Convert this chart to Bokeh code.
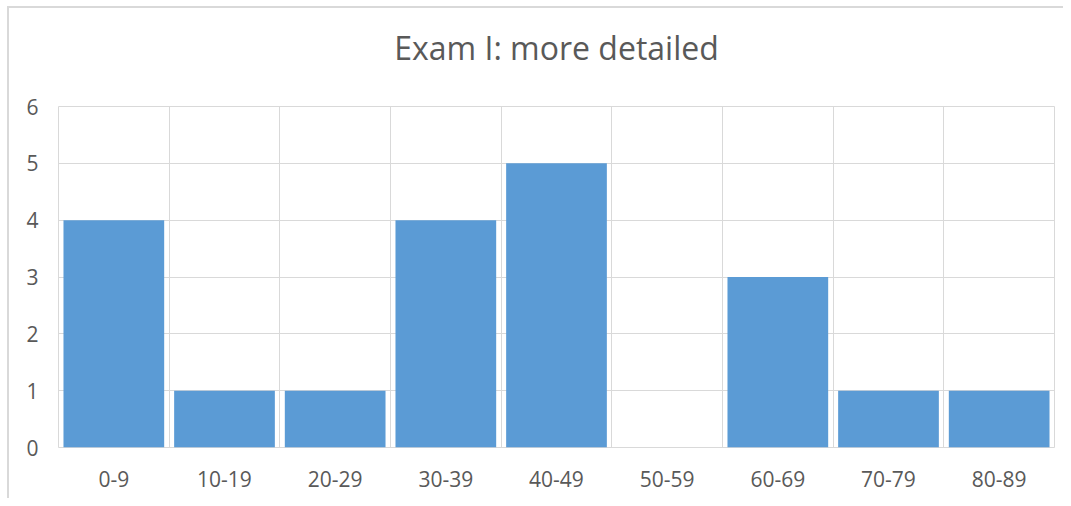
from bokeh.plotting import figure
from bokeh.models import FixedTicker, Range1d, LinearAxis
from bokeh.embed import file_html
from bokeh.resources import INLINE

categories = ["0-9", "10-19", "20-29", "30-39", "40-49", "50-59", "60-69", "70-79", "80-89"]
counts = [4, 1, 1, 4, 5, 0, 3, 1, 1]
y_ticks = [0, 1, 2, 3, 4, 5, 6]
title_text = "Exam I: more detailed"

TEXT = "#595959"
GRID = "#d9d9d9"
FONT = "Open Sans"

n = len(categories)
centers = [i + 0.5 for i in range(n)]
W, H = 1063, 498
BL, BR, BT, BB = 58, 9, 106, 51

p = figure(width=W, height=H, output_backend="svg", toolbar_location=None,
           x_range=Range1d(0, n), y_range=Range1d(0, 6),
           min_border_left=BL, min_border_right=BR, min_border_bottom=BB, min_border_top=BT)

p.vbar(x=centers, top=counts, width=0.91, color="#5B9BD5", line_color=None)

bottom_axis = p.below[0]
left_axis = p.left[0]

# title drawn as the label of an empty axis above the frame
top_axis = LinearAxis(ticker=FixedTicker(ticks=[]), axis_label=title_text,
                      axis_line_color=None, major_tick_line_color=None,
                      minor_tick_line_color=None, major_tick_out=0, minor_tick_out=0,
                      major_label_standoff=0,
                      axis_label_standoff=38, axis_label_text_font=FONT,
                      axis_label_text_font_size="32px", axis_label_text_font_style="normal",
                      axis_label_text_color=TEXT)
p.add_layout(top_axis, "above")

p.outline_line_color = GRID
p.outline_line_width = 1
p.background_fill_color = "white"
p.border_fill_color = None
p.styles = {
    "background": ("linear-gradient(#d9d9d9,#d9d9d9) 7px 6px / 2px 100% no-repeat, "
                   "linear-gradient(#d9d9d9,#d9d9d9) 7px 6px / 100% 2px no-repeat, white"),
}

bottom_axis.ticker = FixedTicker(ticks=centers)
bottom_axis.major_label_overrides = {c: lab for c, lab in zip(centers, categories)}
left_axis.ticker = FixedTicker(ticks=y_ticks)
p.xgrid.ticker = FixedTicker(ticks=list(range(n + 1)))
p.ygrid.ticker = FixedTicker(ticks=y_ticks)

for ax in (bottom_axis, left_axis):
    ax.axis_line_color = None
    ax.major_tick_line_color = None
    ax.minor_tick_line_color = None
    ax.major_label_text_font = FONT
    ax.major_label_text_font_size = "21px"
    ax.major_label_text_color = TEXT
bottom_axis.major_label_standoff = 17
left_axis.major_label_standoff = 14

for g in (p.xgrid, p.ygrid):
    g.grid_line_color = GRID
    g.grid_line_width = 1

open("out.html", "w").write(file_html(p, INLINE))
